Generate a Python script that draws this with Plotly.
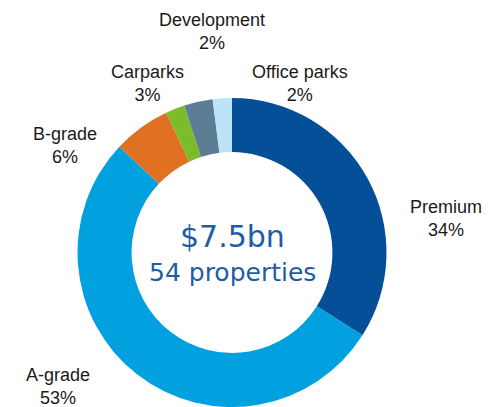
import plotly.graph_objects as go

# Data (clockwise from 12 o'clock)
categories = ["Premium", "A-grade", "B-grade", "Development", "Carparks", "Office parks"]
values = [34, 53, 6, 2, 3, 2]
colors = ["#044F98", "#00A1DE", "#E07122", "#7CBB2A", "#5B7E94", "#BCE4F6"]

total_value = "$7.5bn"
total_properties = "54 properties"

W, H = 490, 407

fig = go.Figure()
fig.add_trace(go.Pie(
    labels=categories,
    values=values,
    sort=False,
    direction="clockwise",
    rotation=0,
    hole=0.65,
    marker=dict(colors=colors, line=dict(width=0)),
    textinfo="none",
    hoverinfo="label+percent",
    domain=dict(x=[(232 - 156) / W, (232 + 156) / W], y=[0, 1 - 98 / H]),
    showlegend=False,
))

# outside label positions (pixel centres)
label_pos = {
    "Premium": (446, 218),
    "A-grade": (58, 386),
    "B-grade": (65, 145),
    "Development": (212, 31),
    "Carparks": (147, 84),
    "Office parks": (300, 84),
}
annotations = []
for c, v in zip(categories, values):
    px, py = label_pos[c]
    annotations.append(dict(
        x=px / W, y=1 - py / H, xref="paper", yref="paper",
        text=f"{c}<br>{v}%", showarrow=False, xanchor="center", yanchor="middle",
        font=dict(family="Liberation Sans, Arial, sans-serif", size=18, color="#1a1a1a"),
    ))
annotations.append(dict(
    x=232 / W, y=1 - 236 / H, xref="paper", yref="paper", text=total_value,
    showarrow=False, xanchor="center", yanchor="middle",
    font=dict(family="DejaVu Sans, sans-serif", size=30, color="#1F5CA6"),
))
annotations.append(dict(
    x=232 / W, y=1 - 272 / H, xref="paper", yref="paper", text=total_properties,
    showarrow=False, xanchor="center", yanchor="middle",
    font=dict(family="DejaVu Sans, sans-serif", size=25, color="#1F5CA6"),
))

fig.update_layout(
    width=W, height=H,
    margin=dict(l=0, r=0, t=0, b=0),
    paper_bgcolor="white", plot_bgcolor="white",
    annotations=annotations,
)

fig.write_html("out.html", config={"displayModeBar": False},
               post_script="document.body.style.margin='0';document.body.style.overflow='hidden';")
